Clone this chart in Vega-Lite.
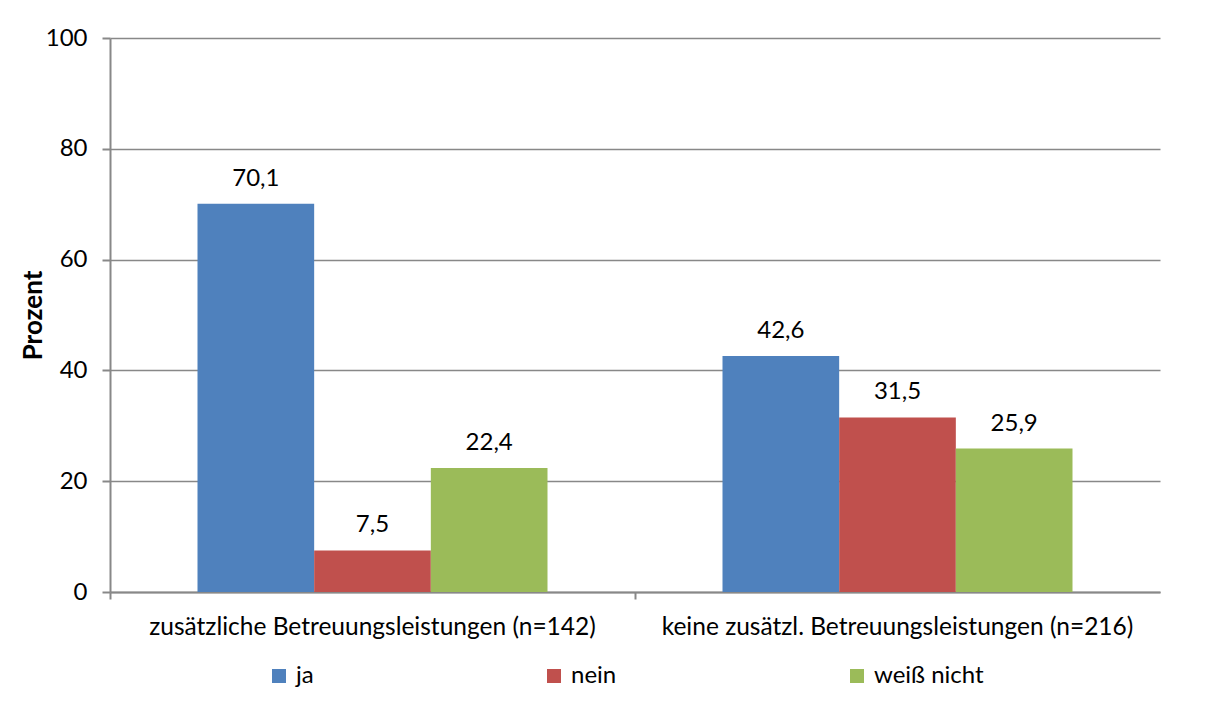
{
  "$schema": "https://vega.github.io/schema/vega-lite/v6.json",
  "width": 1050,
  "height": 554,
  "autosize": {"type": "none"},
  "padding": {"left": 110, "top": 38, "right": 49, "bottom": 119},
  "background": "white",
  "data": {
    "values": [
      {"gruppe": "zusätzliche Betreuungsleistungen (n=142)", "antwort": "ja", "prozent": 70.1},
      {"gruppe": "zusätzliche Betreuungsleistungen (n=142)", "antwort": "nein", "prozent": 7.5},
      {"gruppe": "zusätzliche Betreuungsleistungen (n=142)", "antwort": "weiß nicht", "prozent": 22.4},
      {"gruppe": "keine zusätzl. Betreuungsleistungen (n=216)", "antwort": "ja", "prozent": 42.6},
      {"gruppe": "keine zusätzl. Betreuungsleistungen (n=216)", "antwort": "nein", "prozent": 31.5},
      {"gruppe": "keine zusätzl. Betreuungsleistungen (n=216)", "antwort": "weiß nicht", "prozent": 25.9}
    ]
  },
  "encoding": {
    "x": {
      "field": "gruppe", "type": "nominal", "sort": null,
      "scale": {"paddingInner": 0, "paddingOuter": 0},
      "axis": {
        "title": null, "labelAngle": 0, "bandPosition": 0, "labelLimit": 0,
        "domainColor": "#888888", "domainWidth": 2,
        "tickColor": "#888888", "tickWidth": 2, "tickSize": 7,
        "labelPadding": 16, "labelFontSize": 24.5, "labelColor": "#000000",
        "labelFont": "Lato"
      }
    },
    "xOffset": {
      "field": "antwort", "type": "nominal", "sort": ["ja", "nein", "weiß nicht"],
      "scale": {"paddingInner": 0, "paddingOuter": 0.75}
    },
    "y": {
      "field": "prozent", "type": "quantitative",
      "scale": {"domain": [0, 100]},
      "axis": {
        "values": [0, 20, 40, 60, 80, 100],
        "title": "Prozent", "titleFont": "Lato", "titleFontSize": 26, "titleFontWeight": "bold",
        "titleColor": "#000000", "titleX": -77, "titleY": 277, "titleAngle": -90,
        "titleAlign": "center", "titleBaseline": "middle",
        "domainColor": "#888888", "domainWidth": 2,
        "tickColor": "#888888", "tickWidth": 2, "tickSize": 8,
        "gridColor": "#888888", "gridWidth": 1.5,
        "labelPadding": 15, "labelFontSize": 24, "labelColor": "#000000",
        "labelFont": "Lato"
      }
    }
  },
  "layer": [
    {
      "mark": {"type": "bar"},
      "encoding": {
        "color": {
          "field": "antwort", "type": "nominal", "sort": ["ja", "nein", "weiß nicht"],
          "scale": {"domain": ["ja", "nein", "weiß nicht"], "range": ["#4F81BD", "#C0504D", "#9BBB59"]},
          "legend": {
            "title": null, "orient": "none", "direction": "horizontal",
            "legendX": 157, "legendY": 626,
            "symbolType": "square", "symbolSize": 196, "symbolStrokeWidth": 0,
            "columnPadding": 228, "labelFontSize": 24, "labelFont": "Lato",
            "labelColor": "#000000", "labelOffset": 5
          }
        }
      }
    },
    {
      "mark": {"type": "text", "baseline": "bottom", "dy": -13, "fontSize": 24, "font": "Lato", "color": "#000000"},
      "encoding": {
        "text": {"field": "prozent", "type": "quantitative", "format": ".1f"}
      }
    }
  ],
  "config": {
    "locale": {"number": {"decimal": ",", "thousands": ".", "grouping": [3], "currency": ["", " €"]}},
    "view": {"stroke": null},
    "axis": {"gridOpacity": 1}
  }
}
